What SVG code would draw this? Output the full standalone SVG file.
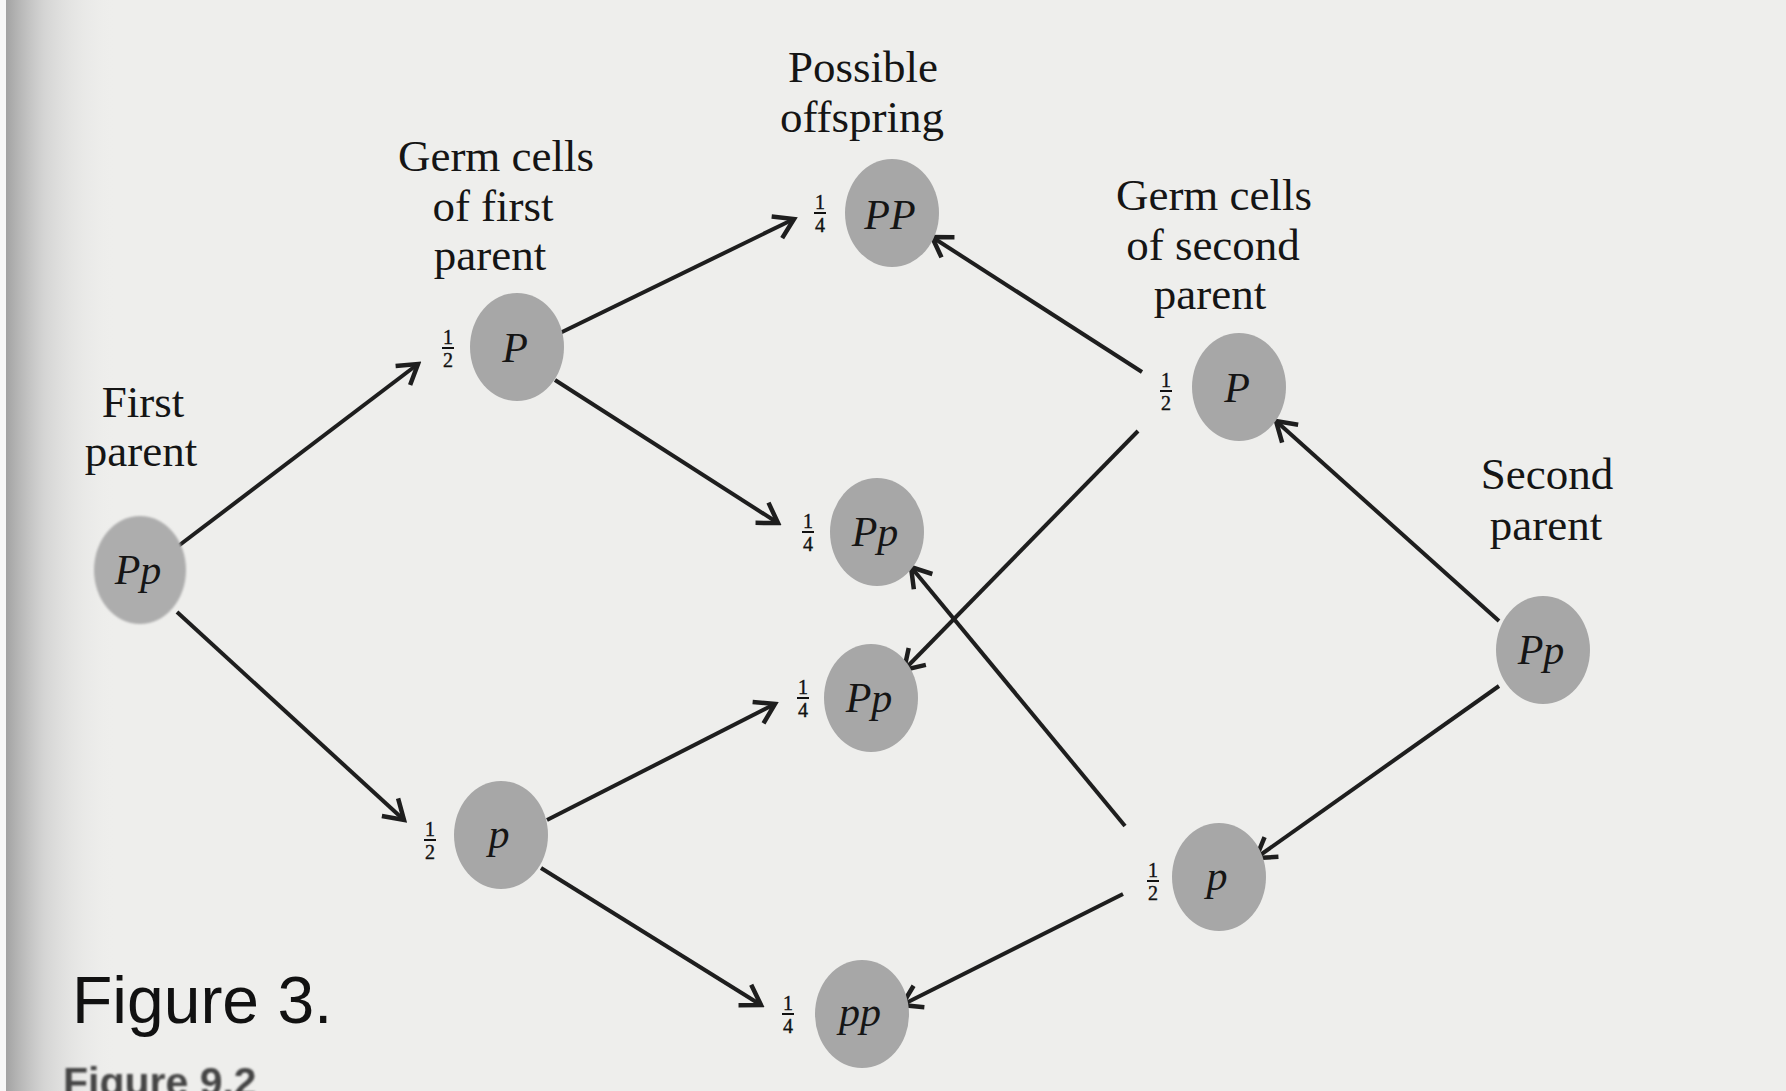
<svg xmlns="http://www.w3.org/2000/svg" width="1786" height="1091" viewBox="0 0 1786 1091">
<defs>
<linearGradient id="shade" x1="0" y1="0" x2="1" y2="0">
<stop offset="0" stop-color="#9a9a9a" stop-opacity="0.9"/>
<stop offset="0.35" stop-color="#c4c4c4" stop-opacity="0.6"/>
<stop offset="1" stop-color="#eeeeec" stop-opacity="0"/>
</linearGradient>
<marker id="arr" markerUnits="userSpaceOnUse" markerWidth="30" markerHeight="30" viewBox="0 0 30 30" refX="26" refY="15" orient="auto">
<path d="M7,3 L26,15 L7,27" fill="none" stroke="#1e1e1e" stroke-width="4.5" stroke-linejoin="miter"/>
</marker>
<filter id="blur"><feGaussianBlur stdDeviation="1.2"/></filter>
</defs>
<style>
.lbl{font-family:"Liberation Serif","DejaVu Serif",serif;font-size:45px;fill:#151515;text-anchor:middle}
.cell{fill:#a7a7a7}
.gt{font-family:"Liberation Serif","DejaVu Serif",serif;font-style:italic;font-size:42px;fill:#151515;text-anchor:middle}
.fr{font-family:"Liberation Serif","DejaVu Serif",serif;font-size:20px;fill:#111;text-anchor:middle;stroke:#111;stroke-width:0.4}
.bar{stroke:#111;stroke-width:2}
.edge{stroke:#1e1e1e;stroke-width:4;fill:none;marker-end:url(#arr)}
</style>
<rect x="0" y="0" width="1786" height="1091" fill="#eeeeec"/>
<rect x="6" y="0" width="110" height="1091" fill="url(#shade)"/>
<rect x="0" y="0" width="6" height="1091" fill="#f7f7f7"/>

<g id="labels">
<text class="lbl" x="863" y="82">Possible</text>
<text class="lbl" x="862" y="132">offspring</text>
<text class="lbl" x="496" y="171">Germ cells</text>
<text class="lbl" x="493" y="221">of first</text>
<text class="lbl" x="490" y="270">parent</text>
<text class="lbl" x="1214" y="210">Germ cells</text>
<text class="lbl" x="1213" y="260">of second</text>
<text class="lbl" x="1210" y="309">parent</text>
<text class="lbl" x="143" y="417">First</text>
<text class="lbl" x="141" y="466">parent</text>
<text class="lbl" x="1547" y="489">Second</text>
<text class="lbl" x="1546" y="540">parent</text>
</g>

<g id="connectors">
<line class="edge" x1="177" y1="547" x2="418" y2="364"/>
<line class="edge" x1="177" y1="612" x2="404" y2="820"/>
<line class="edge" x1="560" y1="333" x2="794" y2="219"/>
<line class="edge" x1="555" y1="380" x2="778" y2="523"/>
<line class="edge" x1="547" y1="820" x2="775" y2="704"/>
<line class="edge" x1="541" y1="868" x2="761" y2="1005"/>
<line class="edge" x1="1142" y1="372" x2="932" y2="237"/>
<line class="edge" x1="1138" y1="431" x2="904" y2="670"/>
<line class="edge" x1="1499" y1="621" x2="1276" y2="421"/>
<line class="edge" x1="1499" y1="686" x2="1256" y2="858"/>
<line class="edge" x1="1125" y1="826" x2="911" y2="567"/>
<line class="edge" x1="1123" y1="894" x2="902" y2="1005"/>
</g>

<g id="first-parent">
<ellipse cx="140" cy="570" rx="46" ry="54" filter="url(#blur)" fill="#adadad"/>
<text class="gt" x="138" y="584">Pp</text>
</g>
<g id="germ1-P">
<ellipse class="cell" cx="517" cy="347" rx="47" ry="54"/>
<text class="gt" x="515" y="362">P</text>
<text class="fr" x="448" y="344">1</text><line class="bar" x1="442" y1="348" x2="454" y2="348"/><text class="fr" x="448" y="367">2</text>
</g>
<g id="germ1-p">
<ellipse class="cell" cx="501" cy="835" rx="47" ry="54"/>
<text class="gt" x="499" y="848">p</text>
<text class="fr" x="430" y="836">1</text><line class="bar" x1="424" y1="840" x2="436" y2="840"/><text class="fr" x="430" y="859">2</text>
</g>
<g id="off-PP">
<ellipse class="cell" cx="892" cy="213" rx="47" ry="54"/>
<text class="gt" x="890" y="229">PP</text>
<text class="fr" x="820" y="209">1</text><line class="bar" x1="814" y1="213" x2="826" y2="213"/><text class="fr" x="820" y="232">4</text>
</g>
<g id="off-Pp-1">
<ellipse class="cell" cx="877" cy="532" rx="47" ry="54"/>
<text class="gt" x="875" y="546">Pp</text>
<text class="fr" x="808" y="528">1</text><line class="bar" x1="802" y1="532" x2="814" y2="532"/><text class="fr" x="808" y="551">4</text>
</g>
<g id="off-Pp-2">
<ellipse class="cell" cx="871" cy="698" rx="47" ry="54"/>
<text class="gt" x="869" y="712">Pp</text>
<text class="fr" x="803" y="694">1</text><line class="bar" x1="797" y1="698" x2="809" y2="698"/><text class="fr" x="803" y="717">4</text>
</g>
<g id="off-pp">
<ellipse class="cell" cx="862" cy="1014" rx="47" ry="54"/>
<text class="gt" x="860" y="1026">pp</text>
<text class="fr" x="788" y="1010">1</text><line class="bar" x1="782" y1="1014" x2="794" y2="1014"/><text class="fr" x="788" y="1033">4</text>
</g>
<g id="germ2-P">
<ellipse class="cell" cx="1239" cy="387" rx="47" ry="54"/>
<text class="gt" x="1237" y="402">P</text>
<text class="fr" x="1166" y="387">1</text><line class="bar" x1="1160" y1="391" x2="1172" y2="391"/><text class="fr" x="1166" y="410">2</text>
</g>
<g id="germ2-p">
<ellipse class="cell" cx="1219" cy="877" rx="47" ry="54"/>
<text class="gt" x="1217" y="890">p</text>
<text class="fr" x="1153" y="877">1</text><line class="bar" x1="1147" y1="881" x2="1159" y2="881"/><text class="fr" x="1153" y="900">2</text>
</g>
<g id="second-parent">
<ellipse class="cell" cx="1543" cy="650" rx="47" ry="54"/>
<text class="gt" x="1541" y="664">Pp</text>
</g>

<text x="72" y="1023" font-family="'Liberation Sans','Open Sans',sans-serif" font-size="66" fill="#111">Figure 3.</text>
<text x="63" y="1096" font-family="'Liberation Sans','Open Sans',sans-serif" font-weight="bold" font-size="41" fill="#444" filter="url(#blur)">Figure 9.2</text>
</svg>
